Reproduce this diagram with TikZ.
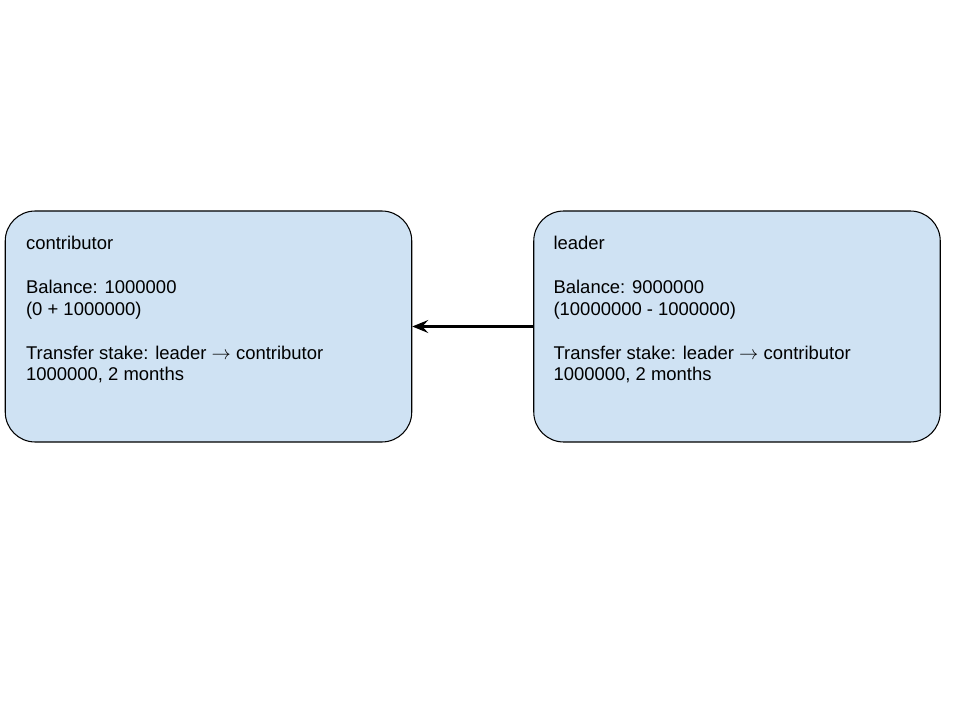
\documentclass[tikz,border=0pt]{standalone}
\usepackage{fontspec}
\setmainfont{Liberation Sans}
\usetikzlibrary{arrows.meta}
\definecolor{boxblue}{HTML}{CFE2F3}
\tikzset{
  account/.style = {draw, line width=0.6pt, fill=boxblue, rounded corners=0.6cm,
    minimum width=\Lbox cm, minimum height=\Hbox cm, inner sep=0pt},
  info/.style = {anchor=north west, inner sep=0pt, align=left,
    font=\fontsize{10.5}{12.5}\selectfont},
  transfer/.style = {line width=1.15pt, -{Stealth[length=3.2mm, width=2.6mm, inset=1.2mm]}}
}
\begin{document}
\begin{tikzpicture}[x=1cm, y=1cm]
  %%+++++++++++++++++++++++++
  % Variables
  % Page
  \pgfmathsetmacro{\Wpage}{19.2}
  \pgfmathsetmacro{\Hpage}{14.4}
  % Box
  \pgfmathsetmacro{\Lbox}{8.13}
  \pgfmathsetmacro{\Hbox}{4.62}
  % Centre line of the boxes
  \pgfmathsetmacro{\ybox}{\Hpage - 6.53}
  %%+++++++++++++++++++++++++
  \useasboundingbox (0,0) rectangle (\Wpage,\Hpage);
  % Accounts
  \node[account] (contributor) at (4.17,\ybox) {};
  \node[account] (leader) at (14.74,\ybox) {};
  % Texts
  \node[info] (contributortext) at ([shift={(0.42,-0.5)}]contributor.north west)
    {contributor\\[12.5pt]
     Balance: 1000000\\
     (0 + 1000000)\\[12.5pt]
     Transfer stake: leader $\rightarrow$ contributor\\
     1000000, 2 months};
  \node[info] (leadertext) at ([shift={(0.4,-0.5)}]leader.north west)
    {leader\\[12.5pt]
     Balance: 9000000\\
     (10000000 - 1000000)\\[12.5pt]
     Transfer stake: leader $\rightarrow$ contributor\\
     1000000, 2 months};
  % Transfer
  \draw[transfer] (leader.west) -- (contributor.east);
\end{tikzpicture}
\end{document}
